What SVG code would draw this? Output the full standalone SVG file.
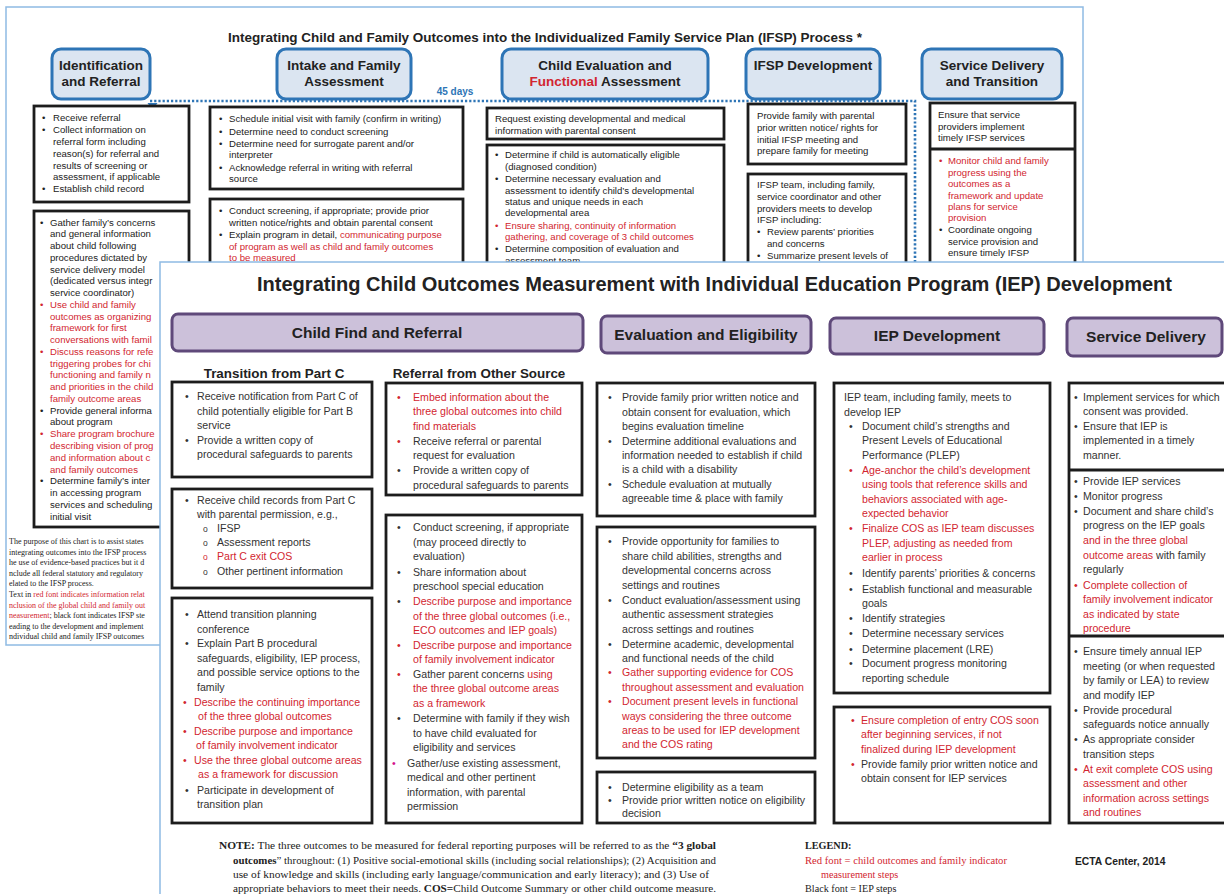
<svg xmlns="http://www.w3.org/2000/svg" width="1224" height="894" viewBox="0 0 1224 894">
<style>
.sans{font-family:"Liberation Sans",Arial,Helvetica,sans-serif}
.serif{font-family:"Liberation Serif","Times New Roman",serif}
.bt{font-family:"Liberation Sans",Arial,sans-serif;font-size:9.6px;fill:#222}
.ft{font-family:"Liberation Sans",Arial,sans-serif;font-size:10.6px;fill:#333}
.red{fill:#d22630}
.mag{fill:#d4148c}
.bhdr{fill:#dbe5f1;stroke:#2e75b6;stroke-width:3}
.bhdrt{font-family:"Liberation Sans",Arial,sans-serif;font-size:13.5px;font-weight:bold;fill:#222;text-anchor:middle}
.phdr{fill:#ccc1da;stroke:#5f497a;stroke-width:3}
.phdrt{font-family:"Liberation Sans",Arial,sans-serif;font-size:15.5px;font-weight:bold;fill:#222;text-anchor:middle}
.box{fill:#fff;stroke:#1c1c1c;stroke-width:2.8}
.frame{fill:#fff;stroke:#8fbbe3;stroke-width:1.5}
.fn{font-family:"Liberation Serif","Times New Roman",serif;font-size:8px;fill:#222}
.note{font-family:"Liberation Serif","Times New Roman",serif;font-size:10.2px;fill:#222}
</style>
<rect width="1224" height="894" fill="#fff"/>

<!-- ================= BACK PAGE (IFSP) ================= -->
<g id="ifsp-page">
<rect class="frame" x="6" y="7" width="1077" height="638"/>
<text class="sans" x="545" y="42" text-anchor="middle" font-size="13.5" font-weight="bold" fill="#222" textLength="634" lengthAdjust="spacingAndGlyphs">Integrating Child and Family Outcomes into the Individualized Family Service Plan (IFSP) Process *</text>
</g>

<g id="ifsp-h-identification">
<rect class="bhdr" x="52" y="49" width="98" height="50" rx="9"/>
<text class="bhdrt" x="101" y="70">Identification</text>
<text class="bhdrt" x="101" y="86">and Referral</text>
</g>
<g id="ifsp-h-intake">
<rect class="bhdr" x="277" y="49" width="134" height="50" rx="9"/>
<text class="bhdrt" x="344" y="70">Intake and Family</text>
<text class="bhdrt" x="344" y="86">Assessment</text>
</g>
<g id="ifsp-h-evaluation">
<rect class="bhdr" x="502" y="49" width="206" height="50" rx="9"/>
<text class="bhdrt" x="605" y="70">Child Evaluation and</text>
<text class="bhdrt" x="605" y="86"><tspan fill="#d22630">Functional</tspan> Assessment</text>
</g>
<g id="ifsp-h-development">
<rect class="bhdr" x="746" y="49" width="134" height="50" rx="9"/>
<text class="bhdrt" x="813" y="70">IFSP Development</text>
</g>
<g id="ifsp-h-service">
<rect class="bhdr" x="922" y="49" width="140" height="50" rx="9"/>
<text class="bhdrt" x="992" y="70">Service Delivery</text>
<text class="bhdrt" x="992" y="86">and Transition</text>
</g>

<g id="connectors">
<path d="M150,101 H915 V262" fill="none" stroke="#2e75b6" stroke-width="2.6" stroke-dasharray="2.2 2"/>
<polygon points="147.5,103 157.5,103 152.5,110" fill="#2e75b6"/>
<text class="sans" x="455" y="95" text-anchor="middle" font-size="10" font-weight="bold" fill="#2e75b6">45 days</text>
</g>

<g id="ifsp-box-a" class="bt">
<rect class="box" x="34" y="106" width="155" height="96"/>
<text x="42" y="121">•</text><text x="53" y="121">Receive referral</text>
<text x="42" y="133">•</text><text x="53" y="133">Collect information on</text>
<text x="53" y="145">referral form including</text>
<text x="53" y="157">reason(s) for referral and</text>
<text x="53" y="169">results of screening or</text>
<text x="53" y="180">assessment, if applicable</text>
<text x="42" y="192">•</text><text x="53" y="192">Establish child record</text>
</g>

<g id="ifsp-box-b" class="bt">
<rect class="box" x="34" y="211" width="155" height="316"/>
<text x="40" y="225.5">•</text><text x="50" y="225.5">Gather family’s concerns</text>
<text x="50" y="237.3">and general information</text>
<text x="50" y="249">about child following</text>
<text x="50" y="260.8">procedures dictated by</text>
<text x="50" y="272.5">service delivery model</text>
<text x="50" y="284.3">(dedicated versus integr</text>
<text x="50" y="296.1">service coordinator)</text>
<g class="red">
<text x="40" y="307.8">•</text><text x="50" y="307.8">Use child and family</text>
<text x="50" y="319.6">outcomes as organizing</text>
<text x="50" y="331.3">framework for first</text>
<text x="50" y="343.1">conversations with famil</text>
<text x="40" y="354.9">•</text><text x="50" y="354.9">Discuss reasons for refe</text>
<text x="50" y="366.6">triggering probes for chi</text>
<text x="50" y="378.4">functioning and family n</text>
<text x="50" y="390.1">and priorities in the child</text>
<text x="50" y="401.9">family outcome areas</text>
</g>
<text x="40" y="413.7">•</text><text x="50" y="413.7">Provide general informa</text>
<text x="50" y="425.4">about program</text>
<g class="red">
<text x="40" y="437.2">•</text><text x="50" y="437.2">Share program brochure</text>
<text x="50" y="448.9">describing vision of prog</text>
<text x="50" y="460.7">and information about c</text>
<text x="50" y="472.5">and family outcomes</text>
</g>
<text x="40" y="484.2">•</text><text x="50" y="484.2">Determine family’s inter</text>
<text x="50" y="496">in accessing program</text>
<text x="50" y="507.7">services and scheduling</text>
<text x="50" y="519.5">initial visit</text>
</g>

<g id="ifsp-footnote" class="fn">
<text x="9" y="544">The purpose of this chart is to assist states</text>
<text x="9" y="554.6">integrating outcomes into the IFSP process</text>
<text x="9" y="565.2">he use of evidence-based practices but it d</text>
<text x="9" y="575.8">nclude all federal statutory and regulatory</text>
<text x="9" y="586.4">elated to the IFSP process.</text>
<text x="9" y="597">Text in <tspan class="red">red font indicates information relat</tspan></text>
<text x="9" y="607.6" class="red">nclusion of the global child and family out</text>
<text x="9" y="618.2"><tspan class="red">neasurement</tspan>; black font indicates IFSP ste</text>
<text x="9" y="628.8">eading to the development and implement</text>
<text x="9" y="639.4">ndividual child and family IFSP outcomes</text>
</g>

<g id="ifsp-box-c" class="bt">
<rect class="box" x="210" y="107" width="253" height="82"/>
<text x="219" y="122">•</text><text x="229" y="122">Schedule initial visit with family (confirm in writing)</text>
<text x="219" y="135">•</text><text x="229" y="135">Determine need to conduct screening</text>
<text x="219" y="147">•</text><text x="229" y="147">Determine need for surrogate parent and/or</text>
<text x="229" y="158">interpreter</text>
<text x="219" y="171">•</text><text x="229" y="171">Acknowledge referral in writing with referral</text>
<text x="229" y="182">source</text>
</g>
<g id="ifsp-box-d" class="bt">
<rect class="box" x="210" y="199" width="253" height="90"/>
<text x="219" y="214">•</text><text x="229" y="214">Conduct screening, if appropriate; provide prior</text>
<text x="229" y="226">written notice/rights and obtain parental consent</text>
<text x="219" y="238">•</text><text x="229" y="238">Explain program in detail, <tspan class="red">communicating purpose</tspan></text>
<text x="229" y="250" class="red">of program as well as child and family outcomes</text>
<text x="229" y="261" class="red">to be measured</text>
</g>

<g id="ifsp-box-e" class="bt">
<rect class="box" x="487" y="108" width="237" height="31"/>
<text x="495" y="122">Request existing developmental and medical</text>
<text x="495" y="134">information with parental consent</text>
</g>
<g id="ifsp-box-f" class="bt">
<rect class="box" x="487" y="145" width="237" height="145"/>
<text x="495" y="158">•</text><text x="505" y="158">Determine if child is automatically eligible</text>
<text x="505" y="170">(diagnosed condition)</text>
<text x="495" y="182">•</text><text x="505" y="182">Determine necessary evaluation and</text>
<text x="505" y="194">assessment to identify child’s developmental</text>
<text x="505" y="205">status and unique needs in each</text>
<text x="505" y="216">developmental area</text>
<text x="495" y="229" class="red">•</text><text x="505" y="229" class="red">Ensure sharing, continuity of information</text>
<text x="505" y="240" class="red">gathering, and coverage of 3 child outcomes</text>
<text x="495" y="252">•</text><text x="505" y="252">Determine composition of evaluation and</text>
<text x="505" y="264">assessment team</text>
</g>

<g id="ifsp-box-g" class="bt">
<rect class="box" x="748" y="104" width="158" height="60"/>
<text x="757" y="119">Provide family with parental</text>
<text x="757" y="131">prior written notice/ rights for</text>
<text x="757" y="143">initial IFSP meeting and</text>
<text x="757" y="154">prepare family for meeting</text>
</g>
<g id="ifsp-box-h" class="bt">
<rect class="box" x="748" y="174" width="158" height="115"/>
<text x="757" y="188">IFSP team, including family,</text>
<text x="757" y="200">service coordinator and other</text>
<text x="757" y="212">providers meets to develop</text>
<text x="757" y="223">IFSP including:</text>
<text x="757" y="235">•</text><text x="767" y="235">Review parents’ priorities</text>
<text x="767" y="247">and concerns</text>
<text x="757" y="259">•</text><text x="767" y="259">Summarize  present levels of</text>
</g>

<g id="ifsp-box-i" class="bt">
<rect class="box" x="930" y="103" width="145" height="186"/>
<line x1="930" y1="149" x2="1075" y2="149" stroke="#1c1c1c" stroke-width="2.8"/>
<text x="938" y="118">Ensure that service</text>
<text x="938" y="130">providers implement</text>
<text x="938" y="141">timely IFSP services</text>
<g class="red">
<text x="939" y="164">•</text><text x="948" y="164">Monitor child and family</text>
<text x="948" y="176">progress using the</text>
<text x="948" y="187">outcomes as a</text>
<text x="948" y="199">framework and update</text>
<text x="948" y="210">plans for service</text>
<text x="948" y="221">provision</text>
</g>
<text x="939" y="233">•</text><text x="948" y="233">Coordinate ongoing</text>
<text x="948" y="245">service provision and</text>
<text x="948" y="256">ensure timely IFSP</text>
</g>

<!-- ================= FRONT PAGE (IEP) ================= -->
<g id="iep-page">
<rect class="frame" x="160" y="262" width="1080" height="650"/>
<text class="sans" x="714.5" y="291" text-anchor="middle" font-size="19.5" font-weight="bold" fill="#222" textLength="915" lengthAdjust="spacingAndGlyphs">Integrating Child Outcomes Measurement with Individual Education Program (IEP) Development</text>
</g>

<g id="iep-h-childfind">
<rect class="phdr" x="172" y="314" width="411" height="37" rx="6"/>
<text class="phdrt" x="377" y="338">Child Find and Referral</text>
</g>
<g id="iep-h-evaluation">
<rect class="phdr" x="601" y="316" width="210" height="37" rx="6"/>
<text class="phdrt" x="706" y="340">Evaluation and Eligibility</text>
</g>
<g id="iep-h-development">
<rect class="phdr" x="830" y="318" width="214" height="36" rx="6"/>
<text class="phdrt" x="937" y="341">IEP Development</text>
</g>
<g id="iep-h-service">
<rect class="phdr" x="1067" y="318" width="155" height="38" rx="6"/>
<text class="phdrt" x="1146" y="342">Service Delivery</text>
</g>

<g id="iep-subheaders" class="sans" font-size="13.4" font-weight="bold" fill="#222" text-anchor="middle">
<text x="274" y="378">Transition from Part C</text>
<text x="479" y="378">Referral from Other Source</text>
</g>

<g id="iep-box-transition-1" class="ft">
<rect class="box" x="172" y="382" width="200" height="95"/>
<text x="185" y="400">•</text><text x="197" y="400">Receive notification from Part C of</text>
<text x="197" y="415">child potentially eligible for Part B</text>
<text x="197" y="429">service</text>
<text x="185" y="444">•</text><text x="197" y="444">Provide a written copy of</text>
<text x="197" y="458">procedural safeguards to parents</text>
</g>
<g id="iep-box-transition-2" class="ft">
<rect class="box" x="172" y="489" width="200" height="99"/>
<text x="185" y="504">•</text><text x="197" y="504">Receive child records from Part C</text>
<text x="197" y="518">with parental permission, e.g.,</text>
<text x="203" y="532" font-size="8.5">o</text><text x="217" y="532">IFSP</text>
<text x="203" y="546" font-size="8.5">o</text><text x="217" y="546">Assessment reports</text>
<text x="203" y="560" font-size="8.5" class="red">o</text><text x="217" y="560" class="red">Part C exit COS</text>
<text x="203" y="575" font-size="8.5">o</text><text x="217" y="575">Other  pertinent information</text>
</g>
<g id="iep-box-transition-3" class="ft">
<rect class="box" x="172" y="598" width="200" height="225"/>
<text x="185" y="618">•</text><text x="197" y="618">Attend transition planning</text>
<text x="197" y="633">conference</text>
<text x="185" y="647">•</text><text x="197" y="647">Explain Part B procedural</text>
<text x="197" y="662">safeguards, eligibility, IEP process,</text>
<text x="197" y="676">and possible service options to the</text>
<text x="197" y="691">family</text>
<g class="red">
<text x="183" y="706">•</text><text x="194" y="706">Describe the continuing importance</text>
<text x="198" y="720">of the three global outcomes</text>
<text x="183" y="735">•</text><text x="194" y="735">Describe purpose and importance</text>
<text x="196" y="749">of family involvement indicator</text>
<text x="183" y="764">•</text><text x="194" y="764">Use the three global outcome areas</text>
<text x="198" y="778">as a framework for discussion</text>
</g>
<text x="185" y="794">•</text><text x="197" y="794">Participate in development of</text>
<text x="197" y="808">transition plan</text>
</g>

<g id="iep-box-referral-1" class="ft">
<rect class="box" x="386" y="383" width="196" height="112"/>
<g class="red">
<text x="397" y="401">•</text><text x="413" y="401">Embed information about the</text>
<text x="413" y="415">three global outcomes into child</text>
<text x="413" y="430">find materials</text>
<text x="397" y="445">•</text>
</g>
<text x="413" y="445">Receive referral or parental</text>
<text x="413" y="459">request for evaluation</text>
<text x="397" y="474">•</text><text x="413" y="474">Provide a written copy  of</text>
<text x="413" y="489">procedural safeguards to parents</text>
</g>
<g id="iep-box-referral-2" class="ft">
<rect class="box" x="386" y="515" width="196" height="308"/>
<text x="397" y="531">•</text><text x="413" y="531">Conduct screening, if appropriate</text>
<text x="413" y="546">(may proceed directly to</text>
<text x="413" y="560">evaluation)</text>
<text x="397" y="576">•</text><text x="413" y="576">Share information about</text>
<text x="413" y="590">preschool special education</text>
<text x="397" y="605">•</text><text x="413" y="605" class="red">Describe purpose and importance</text>
<text x="413" y="620" class="red">of the three global outcomes (i.e.,</text>
<text x="413" y="634" class="red">ECO outcomes and IEP goals)</text>
<text x="397" y="649" class="red">•</text><text x="413" y="649" class="red">Describe purpose and importance</text>
<text x="413" y="663" class="red">of family involvement indicator</text>
<text x="397" y="678" class="red">•</text><text x="413" y="678">Gather parent concerns <tspan class="red">using</tspan></text>
<text x="413" y="692" class="red">the three global outcome areas</text>
<text x="413" y="707" class="red">as a framework</text>
<text x="397" y="722">•</text><text x="413" y="722">Determine with family if they wish</text>
<text x="413" y="737">to have child evaluated for</text>
<text x="413" y="751">eligibility and services</text>
<text x="392" y="767" class="mag">•</text><text x="407" y="767">Gather/use existing assessment,</text>
<text x="407" y="781">medical and other pertinent</text>
<text x="407" y="796">information, with parental</text>
<text x="407" y="810">permission</text>
</g>

<g id="iep-box-eval-1" class="ft">
<rect class="box" x="597" y="383" width="218" height="133"/>
<text x="608" y="401">•</text><text x="622" y="401">Provide family prior written notice and</text>
<text x="622" y="416">obtain consent for evaluation, which</text>
<text x="622" y="430">begins evaluation timeline</text>
<text x="608" y="445">•</text><text x="622" y="445">Determine additional evaluations and</text>
<text x="622" y="459">information needed to establish if child</text>
<text x="622" y="473">is a child with a disability</text>
<text x="608" y="488">•</text><text x="622" y="488">Schedule evaluation at mutually</text>
<text x="622" y="502">agreeable time &amp; place with family</text>
</g>
<g id="iep-box-eval-2" class="ft">
<rect class="box" x="597" y="527" width="218" height="231"/>
<text x="608" y="545">•</text><text x="622" y="545">Provide opportunity for families to</text>
<text x="622" y="560">share child abilities, strengths and</text>
<text x="622" y="574">developmental concerns across</text>
<text x="622" y="589">settings and routines</text>
<text x="608" y="604">•</text><text x="622" y="604">Conduct evaluation/assessment using</text>
<text x="622" y="618">authentic assessment strategies</text>
<text x="622" y="633">across settings and routines</text>
<text x="608" y="648">•</text><text x="622" y="648">Determine academic, developmental</text>
<text x="622" y="662">and functional needs of the child</text>
<g class="red">
<text x="608" y="676">•</text><text x="622" y="676">Gather supporting evidence for COS</text>
<text x="622" y="691">throughout assessment and evaluation</text>
<text x="608" y="705">•</text><text x="622" y="705">Document present levels in functional</text>
<text x="622" y="720">ways considering the three outcome</text>
<text x="622" y="734">areas to be used for IEP development</text>
<text x="622" y="748">and the COS rating</text>
</g>
</g>
<g id="iep-box-eval-3" class="ft">
<rect class="box" x="597" y="772" width="218" height="51"/>
<text x="608" y="791">•</text><text x="622" y="791">Determine eligibility as a team</text>
<text x="608" y="804">•</text><text x="622" y="804">Provide prior written notice on eligibility</text>
<text x="622" y="817">decision</text>
</g>

<g id="iep-box-dev-1" class="ft">
<rect class="box" x="834" y="383" width="216" height="310"/>
<text x="844" y="401">IEP team, including family, meets to</text>
<text x="844" y="416">develop IEP</text>
<text x="849" y="430">•</text><text x="862" y="430">Document child’s strengths and</text>
<text x="862" y="444">Present Levels of Educational</text>
<text x="862" y="459">Performance  (PLEP)</text>
<g class="red">
<text x="849" y="474">•</text><text x="862" y="474">Age-anchor the child’s development</text>
<text x="862" y="488">using tools that reference skills and</text>
<text x="862" y="503">behaviors associated with age-</text>
<text x="862" y="517">expected behavior</text>
<text x="849" y="532">•</text><text x="862" y="532">Finalize COS as IEP team discusses</text>
<text x="862" y="547">PLEP, adjusting as needed from</text>
<text x="862" y="561">earlier in process</text>
</g>
<text x="849" y="577">•</text><text x="862" y="577">Identify parents’ priorities &amp; concerns</text>
<text x="849" y="593">•</text><text x="862" y="593">Establish functional and measurable</text>
<text x="862" y="607">goals</text>
<text x="849" y="622">•</text><text x="862" y="622">Identify strategies</text>
<text x="849" y="637">•</text><text x="862" y="637">Determine necessary services</text>
<text x="849" y="653">•</text><text x="862" y="653">Determine placement (LRE)</text>
<text x="849" y="667">•</text><text x="862" y="667">Document progress monitoring</text>
<text x="862" y="682">reporting schedule</text>
</g>
<g id="iep-box-dev-2" class="ft">
<rect class="box" x="834" y="707" width="216" height="116"/>
<g class="red">
<text x="851" y="724">•</text><text x="861" y="724">Ensure completion of entry COS soon</text>
<text x="861" y="738">after beginning services, if not</text>
<text x="861" y="753">finalized during IEP development</text>
<text x="851" y="768">•</text>
</g>
<text x="861" y="768">Provide family prior written notice and</text>
<text x="861" y="782">obtain consent for IEP services</text>
</g>

<g id="iep-box-service" class="ft">
<rect class="box" x="1069" y="383" width="165" height="440"/>
<line x1="1069" y1="470" x2="1230" y2="470" stroke="#1c1c1c" stroke-width="2.8"/>
<line x1="1069" y1="636" x2="1230" y2="636" stroke="#1c1c1c" stroke-width="2.8"/>
<text x="1074" y="401">•</text><text x="1083" y="401">Implement services for which</text>
<text x="1083" y="415">consent was provided.</text>
<text x="1074" y="430">•</text><text x="1083" y="430">Ensure that IEP is</text>
<text x="1083" y="444">implemented in a timely</text>
<text x="1083" y="459">manner.</text>
<text x="1074" y="485">•</text><text x="1083" y="485">Provide IEP services</text>
<text x="1074" y="500">•</text><text x="1083" y="500">Monitor progress</text>
<text x="1074" y="515">•</text><text x="1083" y="515">Document and share child’s</text>
<text x="1083" y="529">progress on the IEP goals</text>
<text x="1083" y="544" class="red">and in the three global</text>
<text x="1083" y="559"><tspan class="red">outcome areas</tspan> with family</text>
<text x="1083" y="573">regularly</text>
<g class="red">
<text x="1074" y="589">•</text><text x="1083" y="589">Complete collection of</text>
<text x="1083" y="603">family involvement indicator</text>
<text x="1083" y="618">as indicated by state</text>
<text x="1083" y="632">procedure</text>
</g>
<text x="1074" y="655">•</text><text x="1083" y="655">Ensure timely annual IEP</text>
<text x="1083" y="670">meeting (or when requested</text>
<text x="1083" y="684">by family or LEA) to review</text>
<text x="1083" y="699">and modify IEP</text>
<text x="1074" y="714">•</text><text x="1083" y="714">Provide procedural</text>
<text x="1083" y="728">safeguards notice annually</text>
<text x="1074" y="743">•</text><text x="1083" y="743">As appropriate consider</text>
<text x="1083" y="758">transition steps</text>
<g class="red">
<text x="1074" y="773">•</text><text x="1083" y="773">At exit complete COS using</text>
<text x="1083" y="787">assessment and other</text>
<text x="1083" y="802">information across settings</text>
<text x="1083" y="816">and routines</text>
</g>
</g>

<g id="iep-note" class="note">
<text x="219" y="849" textLength="497" lengthAdjust="spacingAndGlyphs"><tspan font-weight="bold">NOTE:</tspan> The three outcomes to be measured for federal reporting purposes will be referred to as the <tspan font-weight="bold">“3 global</tspan></text>
<text x="233" y="864" textLength="483" lengthAdjust="spacingAndGlyphs"><tspan font-weight="bold">outcomes</tspan>” throughout:  (1) Positive social-emotional skills (including social relationships); (2) Acquisition and</text>
<text x="233" y="878" textLength="476" lengthAdjust="spacingAndGlyphs">use of knowledge and skills (including early language/communication and early literacy); and (3) Use of</text>
<text x="233" y="892" textLength="483" lengthAdjust="spacingAndGlyphs">appropriate behaviors to meet their needs. <tspan font-weight="bold">COS=</tspan>Child Outcome Summary or other child outcome measure.</text>
</g>
<g id="iep-legend" class="note">
<text x="805" y="849" font-weight="bold">LEGEND:</text>
<text x="805" y="864" class="red" textLength="202" lengthAdjust="spacingAndGlyphs">Red font = child outcomes and family indicator</text>
<text x="821" y="878" class="red">measurement steps</text>
<text x="805" y="892">Black font = IEP steps</text>
</g>
<g id="iep-credit">
<text class="sans" x="1075" y="865" font-size="10.3" font-weight="bold" fill="#222">ECTA Center, 2014</text>
</g>
</svg>
